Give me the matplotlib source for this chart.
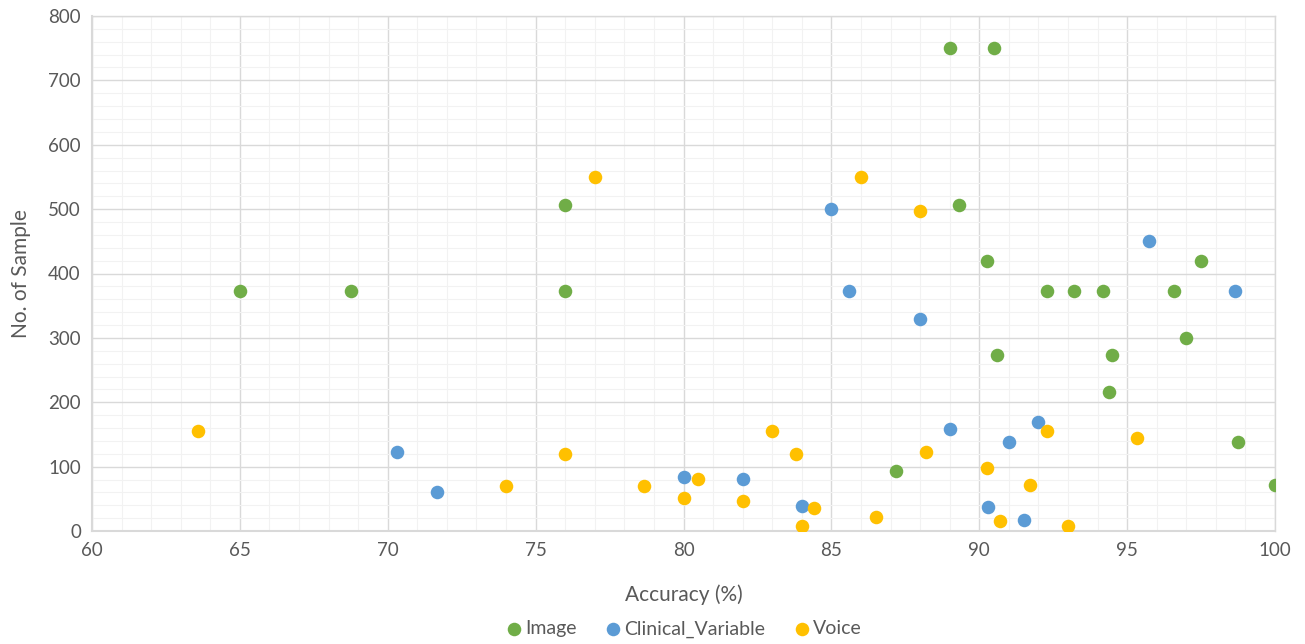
import matplotlib
matplotlib.use("Agg")
import matplotlib.pyplot as plt
from matplotlib.ticker import MultipleLocator

image_x = [65, 68.75, 76, 76, 89, 90.5, 89.3, 90.25, 97.5, 92.3, 93.2, 94.2, 96.6, 97, 90.6, 94.5, 94.4, 98.75, 100, 87.2]
image_y = [373, 373, 506, 373, 750, 750, 506, 420, 420, 373, 373, 373, 373, 300, 273, 273, 216, 138, 72, 93]

clin_x = [85, 85.6, 88, 95.75, 98.65, 92, 89, 91, 70.3, 71.65, 80, 82, 84, 90.3, 91.5]
clin_y = [500, 373, 329, 450, 373, 170, 158, 139, 123, 60, 84, 81, 39, 37, 17]

voice_x = [63.6, 77, 86, 88, 76, 74, 78.65, 80, 80.5, 82, 83, 83.8, 84.4, 84, 86.5, 88.2, 90.25, 92.3, 91.7, 90.7, 93, 95.35]
voice_y = [156, 550, 550, 497, 120, 70, 70, 51, 81, 47, 156, 120, 35, 8, 21, 123, 98, 156, 72, 16, 8, 144]

series_names = ["Image", "Clinical_Variable", "Voice"]
colors = ["#70AD47", "#5B9BD5", "#FFC000"]

plt.rcParams['font.family'] = ['Lato', 'DejaVu Sans']
text_color = "#595959"

fig = plt.figure(figsize=(13.05, 6.44), dpi=100)
ax = fig.add_axes([92/1305, 1-531/644, (1275-92)/1305, (531-16)/644])

for xs, ys, c, n in zip([image_x, clin_x, voice_x], [image_y, clin_y, voice_y], colors, series_names):
    ax.scatter(xs, ys, s=95, color=c, label=n, zorder=3, linewidths=0)

ax.set_xlim(60, 100)
ax.set_ylim(0, 800)
ax.xaxis.set_major_locator(MultipleLocator(5))
ax.xaxis.set_minor_locator(MultipleLocator(1))
ax.yaxis.set_major_locator(MultipleLocator(100))
ax.yaxis.set_minor_locator(MultipleLocator(20))
ax.grid(which='major', color='#D9D9D9', linewidth=1.0, zorder=1)
ax.grid(which='minor', color='#F2F2F2', linewidth=0.8, zorder=0)
ax.set_axisbelow(True)
for sp in ax.spines.values():
    sp.set_color('#D9D9D9')
    sp.set_linewidth(1.0)
ax.spines['left'].set_linewidth(1.5)
ax.spines['bottom'].set_linewidth(1.5)
ax.tick_params(which='both', length=0, labelsize=13.5, colors=text_color, pad=8)

ax.set_xlabel("Accuracy (%)", fontsize=15, color=text_color, labelpad=18)
ax.set_ylabel("No. of Sample", fontsize=15, color=text_color, labelpad=12)

leg = fig.legend(loc='center', bbox_to_anchor=(683/1305, 1-629/644), ncol=3, frameon=False,
                 fontsize=14, handletextpad=0.05, columnspacing=1.4, markerscale=1.0,
                 handlelength=1.0)
for t in leg.get_texts():
    t.set_color(text_color)

fig.savefig("out.png", dpi=100)
